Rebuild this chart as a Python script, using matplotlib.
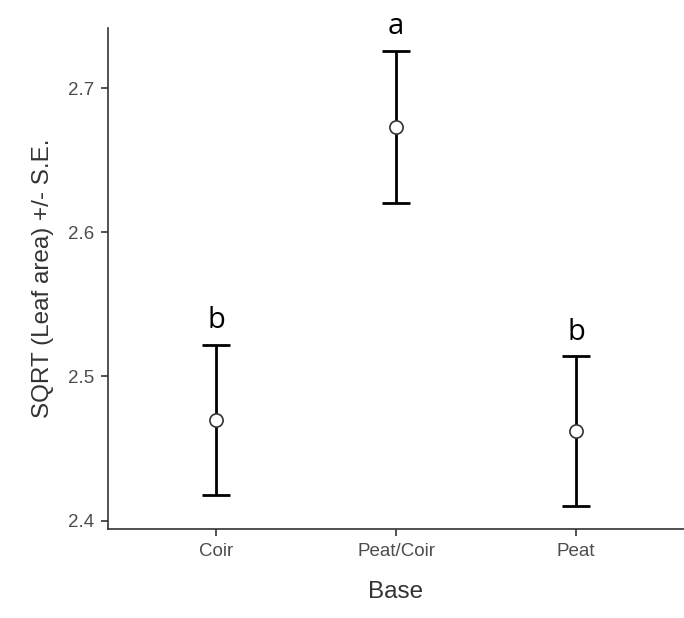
import matplotlib
matplotlib.use("Agg")
import matplotlib.pyplot as plt
import numpy as np

# Means and standard errors
bases = ["Coir", "Peat/Coir", "Peat"]
means = [2.470, 2.673, 2.462]
se = [0.052, 0.053, 0.052]
letters = ["b", "a", "b"]

plt.rcParams.update({
    "font.family": ["Liberation Sans", "DejaVu Sans"],
    "axes.spines.top": False,
    "axes.spines.right": False,
})

fig = plt.figure(figsize=(6.84, 6.18), dpi=100)
ax = fig.add_axes([0.158, 0.144, 0.842, 0.811])

x = np.arange(1, len(bases) + 1)
ax.errorbar(x, means, yerr=se, fmt="none", ecolor="black", elinewidth=2.0,
            capsize=10, capthick=2.0, zorder=2)
ax.plot(x, means, "o", ms=9.5, mfc="white", mec="#333333", mew=1.2, zorder=3)

for xi, m, s, lab in zip(x, means, se, letters):
    ax.annotate(lab, (xi, m + s), xytext=(0, 7), textcoords="offset points",
                ha="center", va="bottom", fontsize=21, family="Open Sans", color="black")

lo = min(m - s for m, s in zip(means, se))
hi = max(m + s for m, s in zip(means, se))
pad = (hi - lo) * 0.05
ax.set_xlim(0.4, 3.6)
ax.set_ylim(lo - pad, hi + pad)
ax.set_xticks(x)
ax.set_xticklabels(bases)
ax.set_yticks([2.4, 2.5, 2.6, 2.7])
ax.set_yticklabels(["2.4", "2.5", "2.6", "2.7"])

for side in ("left", "bottom"):
    ax.spines[side].set_color("#333333")
    ax.spines[side].set_linewidth(1.2)
ax.tick_params(axis="both", colors="#333333", length=5, width=1.2,
               labelsize=13.5, labelcolor="#4D4D4D", pad=5)

ax.set_xlabel("Base", fontsize=17.5, color="#333333", labelpad=15)
ax.set_ylabel("SQRT (Leaf area) +/- S.E.", fontsize=17.5, color="#333333", labelpad=10)

fig.savefig("out.png", dpi=100)
